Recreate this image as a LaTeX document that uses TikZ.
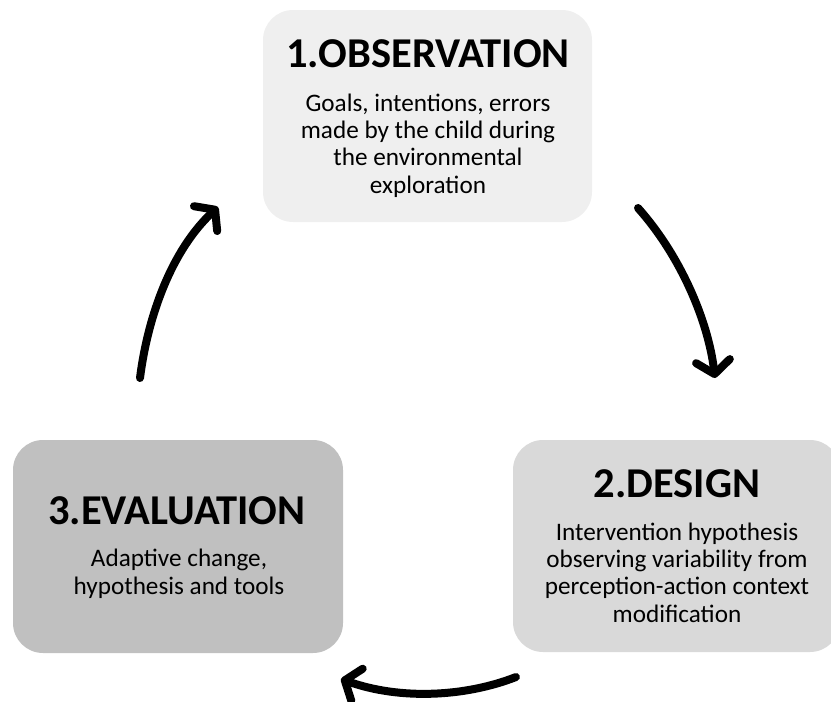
\documentclass[tikz,border=0pt]{standalone}
\usepackage{fontspec}
\setmainfont{Carlito}
\usetikzlibrary{arrows.meta}
\definecolor{boxA}{HTML}{EFEFEF}
\definecolor{boxB}{HTML}{D9D9D9}
\definecolor{boxC}{HTML}{C0C0C0}
\tikzset{
  stagebox/.style={draw=none, rounded corners=30pt, inner sep=0pt},
  titletext/.style={anchor=base, inner sep=0pt, font=\fontsize{42.5}{48}\selectfont\bfseries},
  bodytext/.style={anchor=base, inner sep=0pt, align=center, font=\fontsize{25.2}{27.2}\selectfont},
  cyclearrow/.style={line width=8pt, line cap=round, -{Straight Barb[round, length=13pt, width=34pt, line width=8pt]}}
}
\begin{document}
\begin{tikzpicture}[x=1pt, y=-1pt]
\useasboundingbox (0,0) rectangle (831,702);
\clip (0,0) rectangle (831,702);
% boxes
\node[stagebox, fill=boxA, minimum width=329pt, minimum height=212pt] (obs) at (427.5,116) {};
\node[stagebox, fill=boxB, minimum width=327pt, minimum height=212pt] (des) at (676.5,546) {};
\node[stagebox, fill=boxC, minimum width=330pt, minimum height=213pt] (eva) at (178,546.5) {};
% texts (body nodes anchored at the baseline of their last line)
\node[titletext] (obsT) at (428,67) {1.OBSERVATION};
\node[bodytext] (obsB) at (428,193) {Goals, intentions, errors\\made by the child during\\the environmental\\exploration};
\node[titletext] (desT) at (677,497) {2.DESIGN};
\node[bodytext] (desB) at (677,622) {Intervention hypothesis\\observing variability from\\perception-action context\\modification};
\node[titletext] (evaT) at (177,524) {3.EVALUATION};
\node[bodytext] (evaB) at (179,594) {Adaptive change,\\hypothesis and tools};
% arrows
\coordinate (a1s) at (638,208);
\coordinate (a1e) at (715,378);
\coordinate (a2s) at (516,677);
\coordinate (a2e) at (341,679);
\coordinate (a3s) at (140,378);
\coordinate (a3e) at (218,207);
\draw[cyclearrow] (a1s) .. controls (680,255) and (708,320) .. (a1e);
\draw[cyclearrow] (a2s) .. controls (465,697) and (400,700) .. (a2e);
\draw[cyclearrow] (a3s) .. controls (148,315) and (172,250) .. (a3e);
\end{tikzpicture}
\end{document}
